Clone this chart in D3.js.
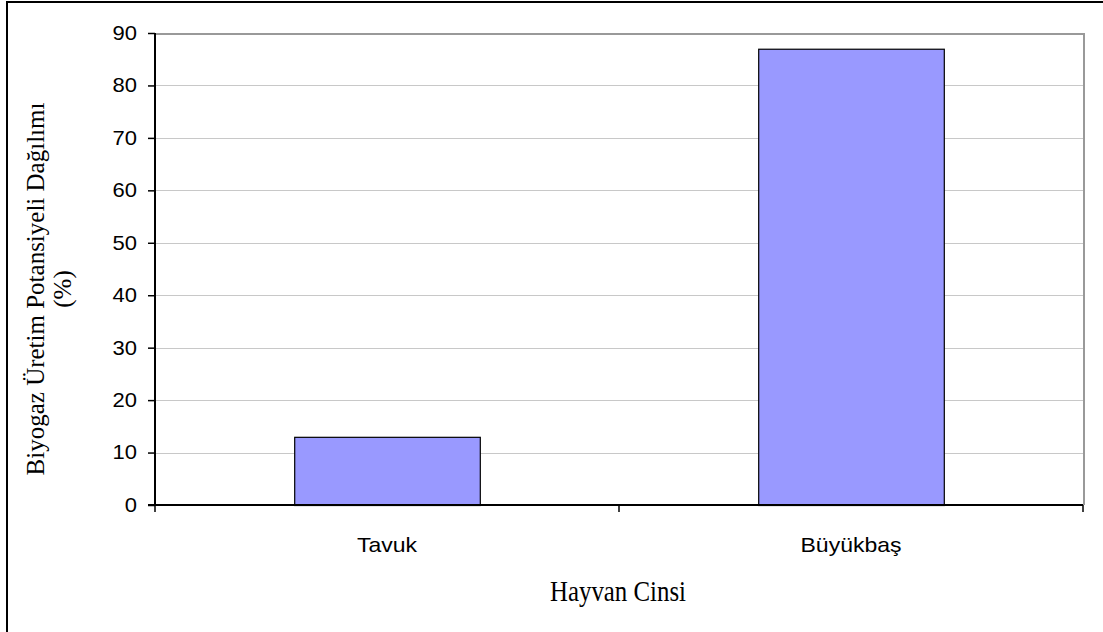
<!DOCTYPE html>
<html><head><meta charset="utf-8">
<script src="https://cdn.jsdelivr.net/npm/d3@7"></script>
<style>body{margin:0;background:#fff}svg{display:block}</style>
</head><body>
<svg id="c" width="1103" height="632"></svg>
<script>
const categories = ["Tavuk", "Büyükbaş"];
const values = [13, 87];
const yTicks = [0, 10, 20, 30, 40, 50, 60, 70, 80, 90];
const yTitle = ["Biyogaz Üretim Potansiyeli Dağılımı", "(%)"];
const xTitle = "Hayvan Cinsi";

const svg = d3.select("#c");
const L = 155, R = 1083, T = 33, B = 505;

// outer frame (top + left)
svg.append("line").attr("x1", 6).attr("x2", 1103).attr("y1", 2).attr("y2", 2).attr("stroke", "#000").attr("stroke-width", 2);
svg.append("line").attr("x1", 7).attr("x2", 7).attr("y1", 1).attr("y2", 632).attr("stroke", "#000").attr("stroke-width", 2);

const x = d3.scaleBand().domain(categories).range([L, R]).paddingInner(0).paddingOuter(0);
const y = d3.scaleLinear().domain([0, 90]).range([B, T]);

// gridlines
svg.append("g").selectAll("line").data(yTicks.filter(d => d > 0 && d < 90)).join("line")
  .attr("x1", L).attr("x2", R).attr("y1", d => Math.round(y(d)) + 0.5).attr("y2", d => Math.round(y(d)) + 0.5)
  .attr("stroke", "#c8c8c8").attr("stroke-width", 1);

// plot border top/right gray
svg.append("path").attr("d", `M${L},${T + 1}H${R + 1}V${B}`).attr("fill", "none").attr("stroke", "#999").attr("stroke-width", 2);

// bars
const bw = x.bandwidth() * 0.4;
svg.append("g").selectAll("rect").data(values).join("rect")
  .attr("x", (d, i) => x(categories[i]) + (x.bandwidth() - bw) / 2 + 0.5)
  .attr("y", d => y(d) + 0.5)
  .attr("width", bw)
  .attr("height", d => B - y(d))
  .attr("fill", "#9999ff").attr("stroke", "#000").attr("stroke-width", 1.2);

// y axis
const yAxis = d3.axisLeft(y).tickValues(yTicks).tickSize(7).tickPadding(11);
const gy = svg.append("g").attr("transform", `translate(${L},0)`).call(yAxis);
gy.select(".domain").attr("stroke", "#000").attr("stroke-width", 2).attr("d", `M0,${T}V${B}`);
gy.selectAll(".tick line").attr("stroke", "#000").attr("stroke-width", 1.5);
gy.selectAll(".tick text").attr("font-family", "Liberation Sans, Arial, sans-serif").attr("font-size", 20).attr("fill", "#000")
  .attr("transform", "translate(-18,0) scale(1.1,1) translate(18,0)");

// x axis
const gx = svg.append("g").attr("transform", `translate(0,${B})`);
gx.append("line").attr("x1", L - 7).attr("x2", R).attr("y1", 0).attr("y2", 0).attr("stroke", "#000").attr("stroke-width", 2);
const bounds = [L, L + x.bandwidth(), R];
gx.selectAll(".tk").data(bounds).join("line").attr("class", "tk")
  .attr("x1", d => d).attr("x2", d => d).attr("y1", 0).attr("y2", 7).attr("stroke", "#000").attr("stroke-width", 1.5);
gx.selectAll(".lbl").data(categories).join("text").attr("class", "lbl")
  .attr("transform", d => `translate(${x(d) + x.bandwidth() / 2},47) scale(1.15,1)`)
  .attr("text-anchor", "middle")
  .attr("font-family", "Liberation Sans, Arial, sans-serif").attr("font-size", 20).text(d => d);

// x title
svg.append("text").attr("x", 618).attr("y", 601).attr("text-anchor", "middle")
  .attr("font-family", "Liberation Serif, Times New Roman, serif").attr("font-size", 30)
  .attr("textLength", 136).attr("lengthAdjust", "spacingAndGlyphs").text(xTitle);

// y title
const yt = svg.append("text").attr("transform", "rotate(-90)")
  .attr("font-family", "Liberation Serif, Times New Roman, serif").attr("font-size", 25).attr("text-anchor", "middle");
yt.selectAll("tspan").data(yTitle).join("tspan")
  .attr("x", -289).attr("y", (d, i) => 44 + i * 27).text(d => d);
</script>
</body></html>
